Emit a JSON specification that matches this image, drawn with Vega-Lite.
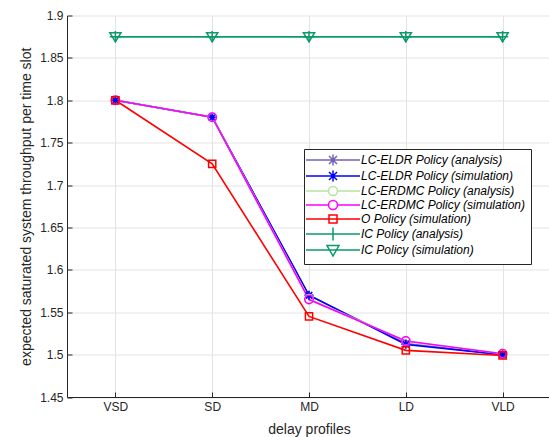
{
  "$schema": "https://vega.github.io/schema/vega-lite/v6.json",
  "width": 484,
  "height": 381.5,
  "autosize": {"type": "none"},
  "padding": {"left": 67, "top": 15.5, "right": 0, "bottom": 40},
  "config": {
    "font": "Liberation Sans",
    "view": {"stroke": null},
    "axis": {
      "labelFont": "Liberation Sans",
      "titleFont": "Liberation Sans",
      "labelColor": "#262626",
      "titleColor": "#262626",
      "domainColor": "#262626",
      "tickColor": "#262626",
      "gridColor": "#e3e3e3",
      "labelFontSize": 12,
      "titleFontSize": 14,
      "titleFontWeight": "normal"
    }
  },
  "data": {
    "values": [
      {"profile": "VSD", "series": "LC-ELDR Policy (analysis)", "value": 1.8},
      {"profile": "SD", "series": "LC-ELDR Policy (analysis)", "value": 1.78},
      {"profile": "MD", "series": "LC-ELDR Policy (analysis)", "value": 1.57},
      {"profile": "LD", "series": "LC-ELDR Policy (analysis)", "value": 1.513},
      {"profile": "VLD", "series": "LC-ELDR Policy (analysis)", "value": 1.5},
      {"profile": "VSD", "series": "LC-ELDR Policy (simulation)", "value": 1.8},
      {"profile": "SD", "series": "LC-ELDR Policy (simulation)", "value": 1.78},
      {"profile": "MD", "series": "LC-ELDR Policy (simulation)", "value": 1.57},
      {"profile": "LD", "series": "LC-ELDR Policy (simulation)", "value": 1.512},
      {"profile": "VLD", "series": "LC-ELDR Policy (simulation)", "value": 1.5},
      {"profile": "VSD", "series": "LC-ERDMC Policy (analysis)", "value": 1.8},
      {"profile": "SD", "series": "LC-ERDMC Policy (analysis)", "value": 1.78},
      {"profile": "MD", "series": "LC-ERDMC Policy (analysis)", "value": 1.566},
      {"profile": "LD", "series": "LC-ERDMC Policy (analysis)", "value": 1.516},
      {"profile": "VLD", "series": "LC-ERDMC Policy (analysis)", "value": 1.501},
      {"profile": "VSD", "series": "LC-ERDMC Policy (simulation)", "value": 1.8},
      {"profile": "SD", "series": "LC-ERDMC Policy (simulation)", "value": 1.78},
      {"profile": "MD", "series": "LC-ERDMC Policy (simulation)", "value": 1.565},
      {"profile": "LD", "series": "LC-ERDMC Policy (simulation)", "value": 1.516},
      {"profile": "VLD", "series": "LC-ERDMC Policy (simulation)", "value": 1.501},
      {"profile": "VSD", "series": "O Policy (simulation)", "value": 1.8},
      {"profile": "SD", "series": "O Policy (simulation)", "value": 1.725},
      {"profile": "MD", "series": "O Policy (simulation)", "value": 1.545},
      {"profile": "LD", "series": "O Policy (simulation)", "value": 1.505},
      {"profile": "VLD", "series": "O Policy (simulation)", "value": 1.499},
      {"profile": "VSD", "series": "IC Policy (analysis)", "value": 1.875},
      {"profile": "SD", "series": "IC Policy (analysis)", "value": 1.875},
      {"profile": "MD", "series": "IC Policy (analysis)", "value": 1.875},
      {"profile": "LD", "series": "IC Policy (analysis)", "value": 1.875},
      {"profile": "VLD", "series": "IC Policy (analysis)", "value": 1.875},
      {"profile": "VSD", "series": "IC Policy (simulation)", "value": 1.875},
      {"profile": "SD", "series": "IC Policy (simulation)", "value": 1.875},
      {"profile": "MD", "series": "IC Policy (simulation)", "value": 1.875},
      {"profile": "LD", "series": "IC Policy (simulation)", "value": 1.875},
      {"profile": "VLD", "series": "IC Policy (simulation)", "value": 1.875}
    ]
  },
  "encoding": {
    "x": {
      "field": "profile",
      "type": "ordinal",
      "sort": ["VSD", "SD", "MD", "LD", "VLD"],
      "scale": {"type": "point", "padding": 0.5},
      "axis": {
        "title": "delay profiles",
        "labelAngle": 0,
        "grid": true,
        "tickSize": -5,
        "labelPadding": 9,
        "titlePadding": 10,
        "domainWidth": 1
      }
    },
    "y": {
      "field": "value",
      "type": "quantitative",
      "scale": {"domain": [1.45, 1.9], "nice": false, "zero": false},
      "axis": {
        "title": "expected saturated system throughput per time slot",
        "values": [1.45, 1.5, 1.55, 1.6, 1.65, 1.7, 1.75, 1.8, 1.85, 1.9],
        "format": ".2~f",
        "tickSize": -5,
        "labelPadding": 9,
        "titlePadding": 6,
        "grid": true
      }
    }
  },
  "layer": [
    {
      "mark": {"type": "line", "strokeWidth": 1.6},
      "encoding": {
        "color": {
          "field": "series",
          "type": "nominal",
          "legend": null,
          "scale": {
            "domain": ["LC-ELDR Policy (analysis)", "LC-ELDR Policy (simulation)", "LC-ERDMC Policy (analysis)", "LC-ERDMC Policy (simulation)", "O Policy (simulation)", "IC Policy (analysis)", "IC Policy (simulation)"],
            "range": ["#7262b6", "#0000ff", "#b6e3a0", "#ff00ff", "#ff0000", "#0b9a6a", "#0b9a6a"]
          }
        }
      }
    },
    {
      "mark": {"type": "point", "filled": false, "size": 64, "strokeWidth": 1.5, "opacity": 1},
      "encoding": {
        "color": {
          "field": "series",
          "type": "nominal",
          "legend": null,
          "scale": {
            "domain": ["LC-ELDR Policy (analysis)", "LC-ELDR Policy (simulation)", "LC-ERDMC Policy (analysis)", "LC-ERDMC Policy (simulation)", "O Policy (simulation)", "IC Policy (analysis)", "IC Policy (simulation)"],
            "range": ["#7262b6", "#0000ff", "#b6e3a0", "#ff00ff", "#ff0000", "#0b9a6a", "#0b9a6a"]
          }
        },
        "shape": {
          "field": "series",
          "type": "nominal",
          "legend": null,
          "scale": {
            "domain": ["LC-ELDR Policy (analysis)", "LC-ELDR Policy (simulation)", "LC-ERDMC Policy (analysis)", "LC-ERDMC Policy (simulation)", "O Policy (simulation)", "IC Policy (analysis)", "IC Policy (simulation)"],
            "range": [
              "M-1.1,0H1.1M0,-1.1V1.1M-0.8,-0.8L0.8,0.8M-0.8,0.8L0.8,-0.8",
              "M-1.1,0H1.1M0,-1.1V1.1M-0.8,-0.8L0.8,0.8M-0.8,0.8L0.8,-0.8",
              "M-1.05,0A1.05,1.05 0 1,0 1.05,0A1.05,1.05 0 1,0 -1.05,0Z",
              "M-1.05,0A1.05,1.05 0 1,0 1.05,0A1.05,1.05 0 1,0 -1.05,0Z",
              "M-0.9,-0.9H0.9V0.9H-0.9Z",
              "M-1.4,0H1.4M0,-1.4V1.4",
              "M-1.4,-1H1.4L0,1.3Z"
            ]
          }
        }
      }
    },
    {
      "mark": {"type": "point", "filled": false, "size": 64, "strokeWidth": 1.5, "opacity": 0},
      "encoding": {
        "color": {
          "field": "series",
          "type": "nominal",
          "scale": {
            "domain": ["LC-ELDR Policy (analysis)", "LC-ELDR Policy (simulation)", "LC-ERDMC Policy (analysis)", "LC-ERDMC Policy (simulation)", "O Policy (simulation)", "IC Policy (analysis)", "IC Policy (simulation)"],
            "range": ["#7262b6", "#0000ff", "#b6e3a0", "#ff00ff", "#ff0000", "#0b9a6a", "#0b9a6a"]
          },
          "legend": {
            "title": null,
            "orient": "none",
            "legendX": 237,
            "legendY": 133.5,
            "padding": 5,
            "fillColor": "white",
            "strokeColor": "#262626",
            "labelFont": "Liberation Sans",
            "labelFontStyle": "italic",
            "labelFontSize": 12,
            "labelColor": "#000000",
            "labelLimit": 300,
            "symbolOffset": 18,
            "labelOffset": 22,
            "rowPadding": -2,
            "symbolOpacity": 1,
            "symbolStrokeWidth": 1.5
          }
        },
        "shape": {
          "field": "series",
          "type": "nominal",
          "scale": {
            "domain": ["LC-ELDR Policy (analysis)", "LC-ELDR Policy (simulation)", "LC-ERDMC Policy (analysis)", "LC-ERDMC Policy (simulation)", "O Policy (simulation)", "IC Policy (analysis)", "IC Policy (simulation)"],
            "range": [
              "M-5.4,0H5.4M0,-1.1V1.1M-0.8,-0.8L0.8,0.8M-0.8,0.8L0.8,-0.8",
              "M-5.4,0H5.4M0,-1.1V1.1M-0.8,-0.8L0.8,0.8M-0.8,0.8L0.8,-0.8",
              "M-5.4,0H-0.9M0.9,0H5.4M-0.9,0A0.9,0.9 0 1,0 0.9,0A0.9,0.9 0 1,0 -0.9,0Z",
              "M-5.4,0H-0.9M0.9,0H5.4M-0.9,0A0.9,0.9 0 1,0 0.9,0A0.9,0.9 0 1,0 -0.9,0Z",
              "M-5.4,0H5.4M-0.8,-0.8H0.8V0.8H-0.8Z",
              "M-5.4,0H5.4M0,-1.3V1.3",
              "M-5.4,0H5.4M-1.2,-0.9H1.2L0,1.2Z"
            ]
          },
          "legend": {
            "title": null,
            "orient": "none",
            "legendX": 237,
            "legendY": 133.5,
            "padding": 5,
            "fillColor": "white",
            "strokeColor": "#262626",
            "labelFont": "Liberation Sans",
            "labelFontStyle": "italic",
            "labelFontSize": 12,
            "labelColor": "#000000",
            "labelLimit": 300,
            "symbolOffset": 18,
            "labelOffset": 22,
            "rowPadding": -2,
            "symbolOpacity": 1,
            "symbolStrokeWidth": 1.5
          }
        }
      }
    }
  ],
  "resolve": {"scale": {"shape": "independent", "color": "independent"}}
}
